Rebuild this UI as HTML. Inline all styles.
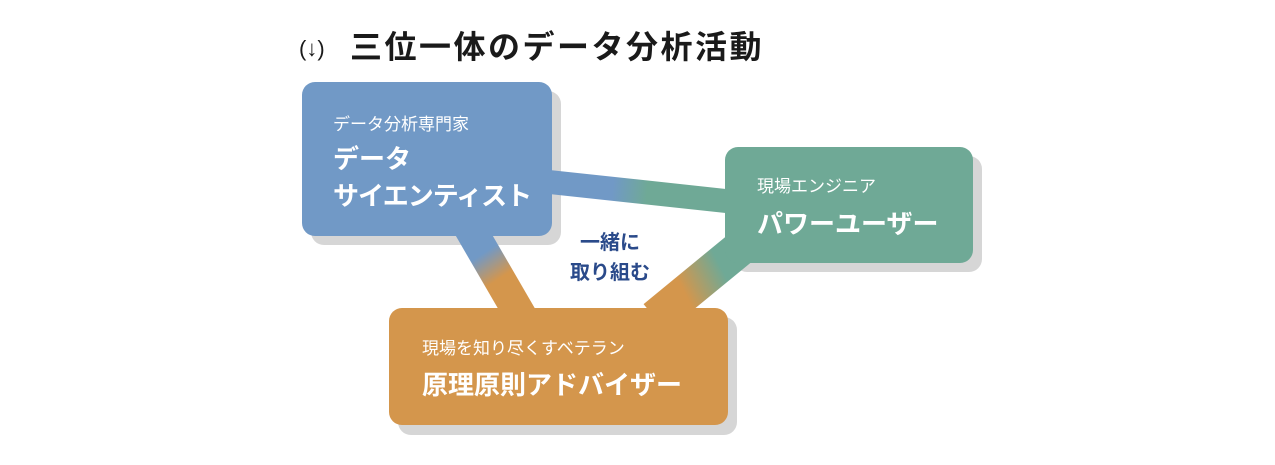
<!DOCTYPE html>
<html><head><meta charset="utf-8"><style>
body{margin:0;width:1275px;height:465px;background:#fff;position:relative;overflow:hidden;font-family:"Liberation Sans","Noto Sans CJK JP",sans-serif}
.t{position:absolute;white-space:nowrap;color:#fff;line-height:1}
</style></head><body>
<svg width="1275" height="465" style="position:absolute;left:0;top:0">
<defs>
<linearGradient id="bg" gradientUnits="userSpaceOnUse" x1="552" y1="182" x2="725" y2="200"><stop offset="0.35" stop-color="#7199c6"/><stop offset="0.55" stop-color="#6fa996"/></linearGradient>
<linearGradient id="bo" gradientUnits="userSpaceOnUse" x1="470" y1="236" x2="518" y2="308"><stop offset="0.25" stop-color="#7199c6"/><stop offset="0.6" stop-color="#d4964c"/></linearGradient>
<linearGradient id="go" gradientUnits="userSpaceOnUse" x1="752" y1="263" x2="665" y2="308"><stop offset="0.3" stop-color="#6fa996"/><stop offset="0.75" stop-color="#d4964c"/></linearGradient>
</defs>
<rect x="311" y="91" width="250" height="154" rx="13" fill="#d6d6d6"/>
<rect x="734" y="156" width="248" height="116" rx="13" fill="#d6d6d6"/>
<rect x="398" y="317" width="339" height="118" rx="13" fill="#d6d6d6"/>
<line x1="540" y1="181" x2="735" y2="202" stroke="url(#bg)" stroke-width="24"/>
<line x1="468" y1="225" x2="522" y2="318" stroke="url(#bo)" stroke-width="32"/>
<line x1="750" y1="240" x2="655" y2="318" stroke="url(#go)" stroke-width="36"/>
<rect x="302" y="82" width="250" height="154" rx="13" fill="#7199c6"/>
<rect x="725" y="147" width="248" height="116" rx="13" fill="#6fa996"/>
<rect x="389" y="308" width="339" height="117" rx="13" fill="#d4964c"/>
</svg>
<div class="t" style="left:299px;top:33px;color:#1a1a1a;font-size:22px;line-height:32px">(↓)</div>
<div class="t" style="left:350px;top:31px;color:#1a1a1a;font-size:32px;font-weight:bold;letter-spacing:2.5px">三位一体のデータ分析活動</div>
<div class="t" style="left:333px;top:116px;font-size:17px">データ分析専門家</div>
<div class="t" style="left:333px;top:146px;font-size:26px;font-weight:bold">データ</div>
<div class="t" style="left:333px;top:183px;font-size:26px;font-weight:bold;letter-spacing:-1px">サイエンティスト</div>
<div class="t" style="left:757px;top:178px;font-size:17px">現場エンジニア</div>
<div class="t" style="left:757px;top:211px;font-size:26px;font-weight:bold">パワーユーザー</div>
<div class="t" style="left:422px;top:340px;font-size:17px">現場を知り尽くすベテラン</div>
<div class="t" style="left:422px;top:372px;font-size:26px;font-weight:bold">原理原則アドバイザー</div>
<div class="t" style="left:565px;top:228px;width:90px;text-align:center;color:#2a4a8a;font-size:20px;font-weight:bold;line-height:30px;white-space:normal">一緒に<br>取り組む</div>
</body></html>
